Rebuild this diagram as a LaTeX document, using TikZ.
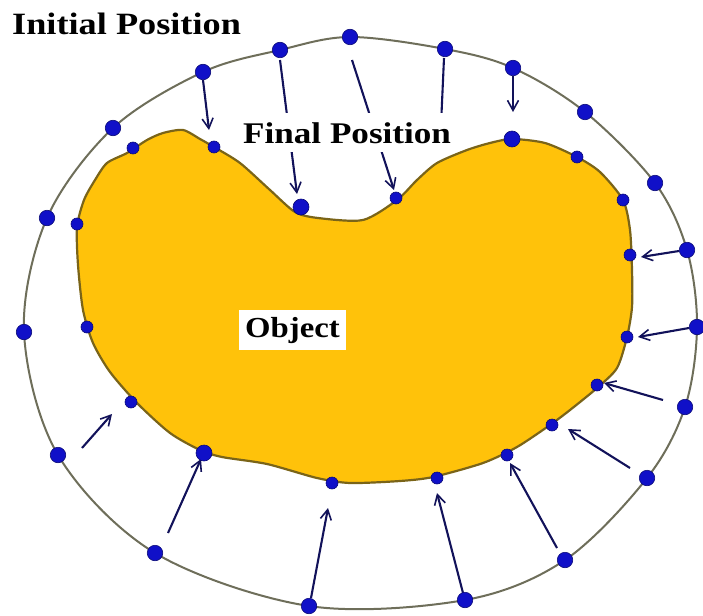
\documentclass[tikz,border=0pt]{standalone}
\usepackage{graphicx}
\usepackage{fontspec}
\setmainfont{Liberation Serif}
\usetikzlibrary{arrows.meta}
\definecolor{objfill}{HTML}{FFC20A}
\definecolor{objedge}{HTML}{7A6418}
\definecolor{dotblue}{HTML}{1010C8}
\definecolor{arrnavy}{HTML}{12125A}
\definecolor{ringgray}{HTML}{6E6E5A}
\tikzset{
  outdot/.style={circle,fill=dotblue,draw=dotblue!60!black,line width=0.6pt,inner sep=0pt,minimum size=15.5pt},
  indot/.style={circle,fill=dotblue,draw=dotblue!60!black,line width=0.6pt,inner sep=0pt,minimum size=12pt},
  bigin/.style={indot,minimum size=16pt},
  moveto/.style={draw=arrnavy,line width=2.1pt,-{Straight Barb[length=10pt,width=11pt,line width=1.6pt]}},
  plainline/.style={draw=arrnavy,line width=2.1pt},
  lbl/.style={inner sep=0pt,anchor=base west,text=black}
}
\begin{document}
\begin{tikzpicture}[x=1pt,y=-1pt]
\useasboundingbox (0,0) rectangle (703,615);
% outer ring
\draw[ringgray,line width=2pt] plot[smooth cycle,tension=0.55] coordinates {
 (350,37) (445,49) (513,68) (585,112) (655,183) (687,250) (697,327) (685,407)
 (647,478) (565,560) (465,600) (309,606) (155,553) (58,455) (24,332) (47,218)
 (113,128) (203,72) (280,50)};
% object
\filldraw[fill=objfill,draw=objedge,line width=2.2pt] plot[smooth cycle,tension=0.45] coordinates {
 (77,227) (84,200) (95,180) (107,163) (127,153) (147,140) (163,133) (183,130)
 (200,139) (214,147) (240,163) (270,190) (295,212) (318,218) (363,220)
 (397,200) (417,180) (437,163) (467,150) (490,143) (512,139) (545,143)
 (577,157) (600,172) (623,200) (630,230) (632,270) (632,307) (627,337)
 (617,368) (597,388) (570,410) (550,425) (517,447) (483,463) (433,477)
 (400,481) (350,483) (317,478) (267,464) (222,457) (200,450) (170,433)
 (137,403) (110,372) (93,343) (83,310) (78,265)};
% arrows (initial -> final)
\coordinate (a1s) at (203,80);  \coordinate (a1e) at (209,130);
\coordinate (a2s) at (280,60);  \coordinate (a2e) at (297,194);
\coordinate (a3s) at (352,60);  \coordinate (a3e) at (394,190);
\coordinate (a4s) at (444,58);  \coordinate (a4e) at (441,125);
\coordinate (a5s) at (513,76);  \coordinate (a5e) at (513,112);
\coordinate (a6s) at (679,251); \coordinate (a6e) at (641,257);
\coordinate (a7s) at (689,328); \coordinate (a7e) at (638,337);
\coordinate (a8s) at (663,400); \coordinate (a8e) at (604,383);
\coordinate (a9s) at (630,468); \coordinate (a9e) at (568,429);
\coordinate (a10s) at (557,548); \coordinate (a10e) at (510,463);
\coordinate (a11s) at (463,593); \coordinate (a11e) at (437,493);
\coordinate (a12s) at (311,598); \coordinate (a12e) at (328,508);
\coordinate (a13s) at (168,533); \coordinate (a13e) at (201,459);
\coordinate (a14s) at (82,448); \coordinate (a14e) at (112,414);
\foreach \k in {1,2,3,5,6,7,8,9,10,11,12,13,14}{\path[moveto] (a\k s) -- (a\k e);}
\path[plainline] (a4s) -- (a4e);
% outer dots
\foreach \p [count=\i] in {(350,37),(445,49),(513,68),(585,112),(655,183),(687,250),(697,327),(685,407),(647,478),(565,560),(465,600),(309,606),(155,553),(58,455),(24,332),(47,218),(113,128),(203,72),(280,50)}
  \node[outdot] (o\i) at \p {};
% inner dots
\foreach \p [count=\i] in {(133,148),(214,147),(396,198),(577,157),(623,200),(630,255),(627,337),(597,385),(552,425),(507,455),(437,478),(332,483),(131,402),(87,327),(77,224)}
  \node[indot] (n\i) at \p {};
\node[bigin] (b1) at (301,207) {};
\node[bigin] (b2) at (512,139) {};
\node[bigin] (b3) at (204,453) {};
% labels
\node[lbl] (tinit) at (12,35) {\scalebox{1.17}[1]{\fontsize{31}{31}\selectfont\bfseries Initial Position}};
\node[lbl,fill=white,inner xsep=2pt,inner ysep=9pt] (tfinal) at (241,143) {\scalebox{1.17}[1]{\fontsize{30}{30}\selectfont\bfseries Final Position}};
\node[lbl,fill=white,inner xsep=6pt,inner ysep=7pt] (tobj) at (239,337) {\scalebox{1.13}[1]{\fontsize{29}{29}\selectfont\bfseries Object}};
\end{tikzpicture}
\end{document}
